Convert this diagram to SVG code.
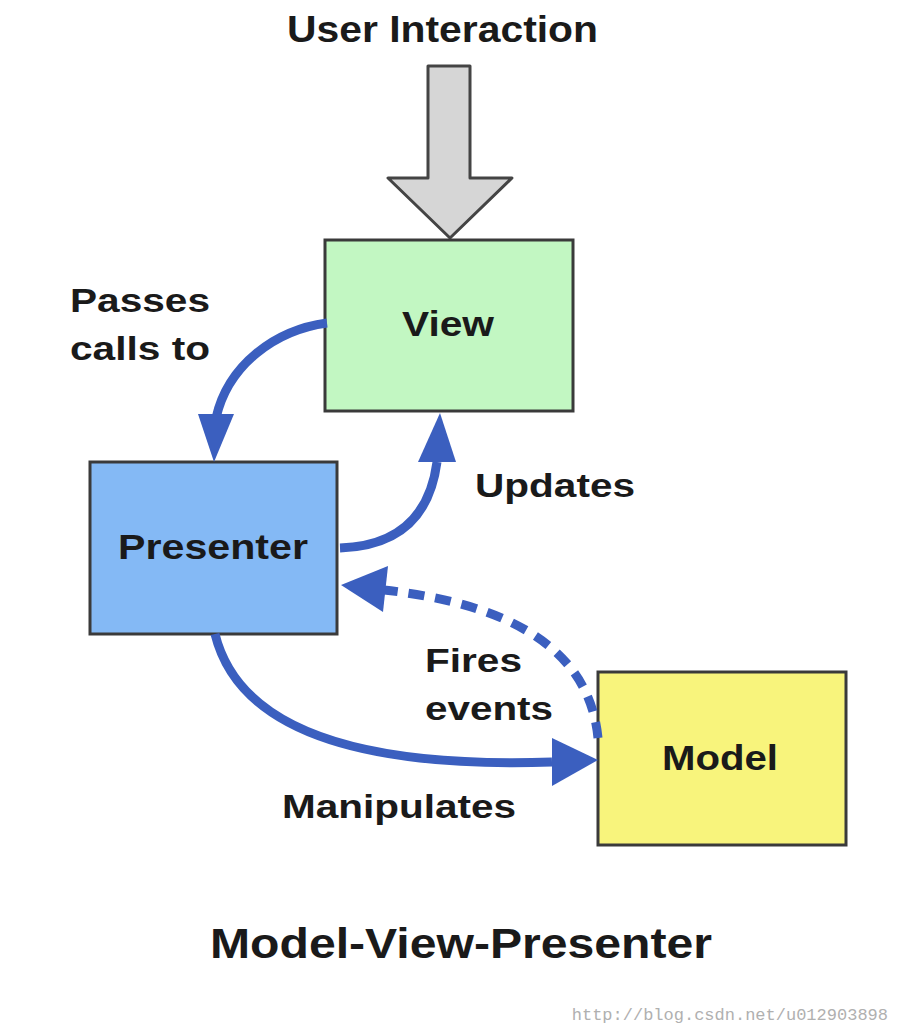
<svg xmlns="http://www.w3.org/2000/svg" width="900" height="1034" viewBox="0 0 900 1034">
<style>
.box{stroke:#3a3a3a;stroke-width:3}
.lbl{font-family:"Liberation Sans",Arial,sans-serif;font-weight:bold;fill:#1a1a1a}
.conn{fill:none;stroke:#3b5fbf;stroke-width:9}
.head{fill:#3b5fbf}
</style>
<rect width="900" height="1034" fill="#ffffff"/>
<text class="lbl" x="287" y="42" font-size="36" textLength="311" lengthAdjust="spacingAndGlyphs">User Interaction</text>
<g id="user-arrow">
<path d="M428,66 L470,66 L470,178 L512,178 L450,238 L388,178 L428,178 Z" fill="#d6d6d6" stroke="#444" stroke-width="3" stroke-linejoin="round"/>
</g>
<g id="view">
<rect class="box" x="325" y="240" width="248" height="171" fill="#c2f7c2"/>
<text class="lbl" x="402" y="336" font-size="35" textLength="92" lengthAdjust="spacingAndGlyphs">View</text>
</g>
<g id="presenter">
<rect class="box" x="90" y="462" width="247" height="172" fill="#84b9f5"/>
<text class="lbl" x="118" y="559" font-size="35" textLength="190" lengthAdjust="spacingAndGlyphs" fill="#0d1a33">Presenter</text>
</g>
<g id="model">
<rect class="box" x="598" y="672" width="248" height="173" fill="#f8f47c"/>
<text class="lbl" x="662" y="770" font-size="35" textLength="116" lengthAdjust="spacingAndGlyphs">Model</text>
</g>
<g id="connectors">
<path class="conn" d="M327,323 C275,330 228,365 216,418"/>
<polygon class="head" points="198,414 234,414 214,462"/>
<path class="conn" d="M340,548 C400,546 430,515 437,462"/>
<polygon class="head" points="418,462 456,462 440,413"/>
<path class="conn" d="M598,738 C590,655 520,605 384,590" stroke-dasharray="16,11"/>
<polygon class="head" points="388,566 383,612 341,585"/>
<path class="conn" d="M215,634 C240,735 370,768 552,762"/>
<polygon class="head" points="552,738 552,786 598,760"/>
</g>
<text class="lbl" x="70" y="312" font-size="34" textLength="140" lengthAdjust="spacingAndGlyphs">Passes</text>
<text class="lbl" x="70" y="360" font-size="34" textLength="140" lengthAdjust="spacingAndGlyphs">calls to</text>
<text class="lbl" x="475" y="497" font-size="34" textLength="160" lengthAdjust="spacingAndGlyphs">Updates</text>
<text class="lbl" x="425" y="672" font-size="34" textLength="97" lengthAdjust="spacingAndGlyphs">Fires</text>
<text class="lbl" x="425" y="720" font-size="34" textLength="128" lengthAdjust="spacingAndGlyphs">events</text>
<text class="lbl" x="282" y="818" font-size="34" textLength="234" lengthAdjust="spacingAndGlyphs">Manipulates</text>
<text class="lbl" x="210" y="958" font-size="42" textLength="502" lengthAdjust="spacingAndGlyphs">Model-View-Presenter</text>
<text x="888" y="1020" font-family="'Liberation Mono',monospace" font-size="17" fill="#b0b0b0" text-anchor="end">http://blog.csdn.net/u012903898</text>
</svg>
